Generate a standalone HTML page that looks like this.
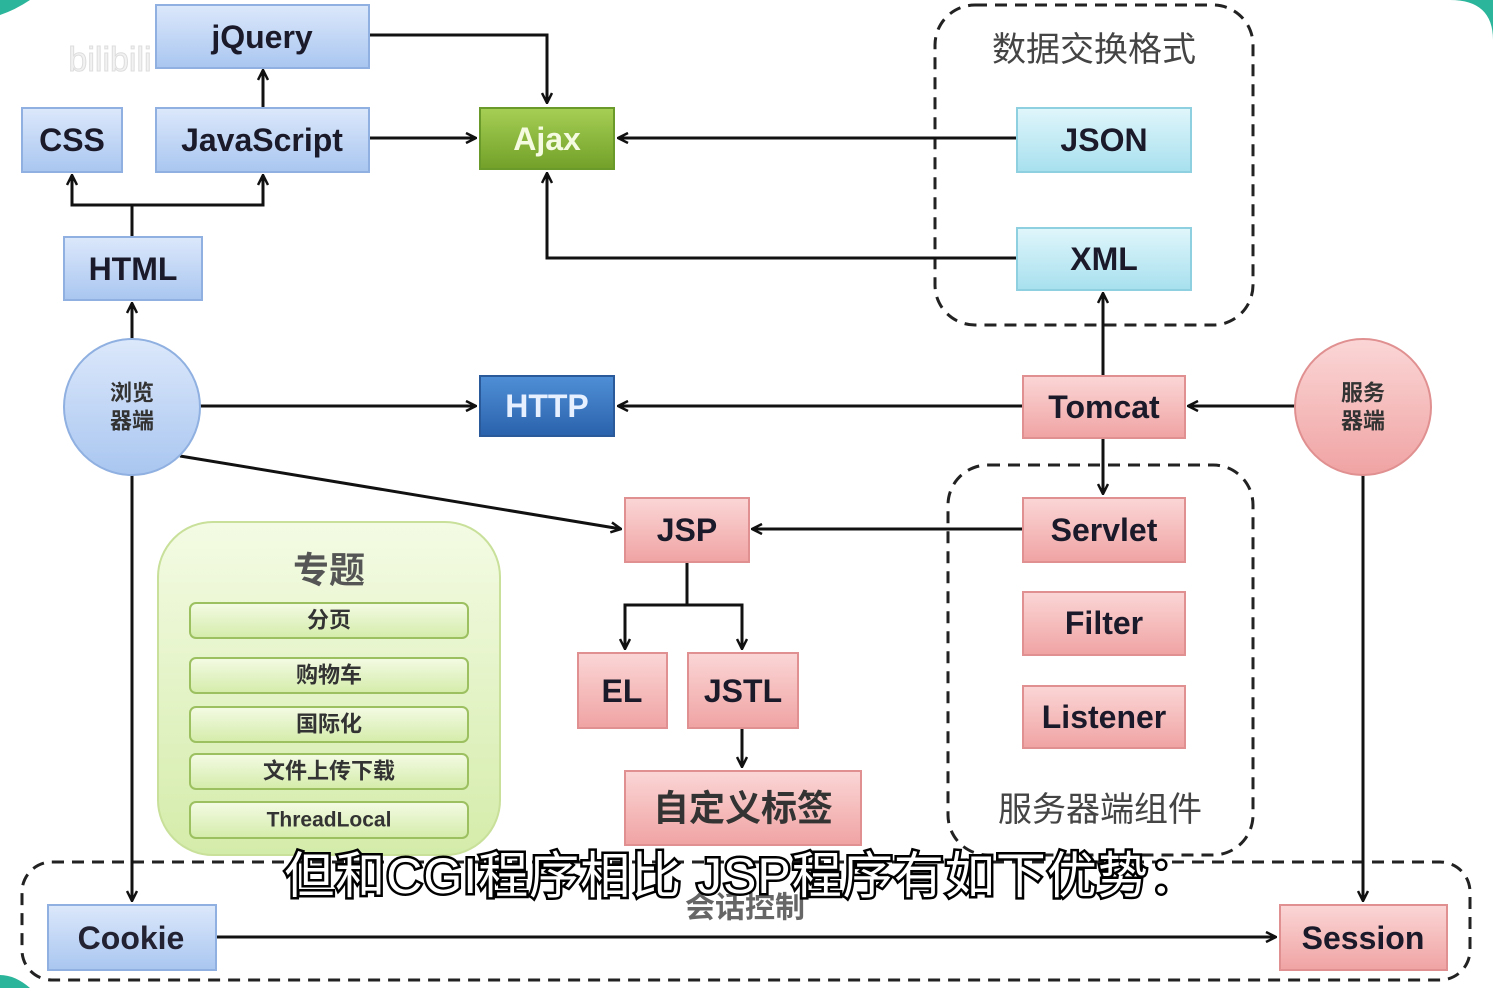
<!DOCTYPE html>
<html><head><meta charset="utf-8"><style>
body{margin:0;background:#fff;width:1493px;height:988px;overflow:hidden}
svg{display:block}
text{font-family:"Liberation Sans","Noto Sans CJK SC",sans-serif;text-anchor:middle;dominant-baseline:central}
</style></head><body>
<svg width="1493" height="988" viewBox="0 0 1493 988">
<defs>
<linearGradient id="gb" x1="0" y1="0" x2="0" y2="1"><stop offset="0" stop-color="#dce8fb"/><stop offset="1" stop-color="#a9c6f0"/></linearGradient>
<linearGradient id="gp" x1="0" y1="0" x2="0" y2="1"><stop offset="0" stop-color="#fbd6d6"/><stop offset="1" stop-color="#f0a3a3"/></linearGradient>
<linearGradient id="gc" x1="0" y1="0" x2="0" y2="1"><stop offset="0" stop-color="#e0f6fb"/><stop offset="1" stop-color="#a7e0ee"/></linearGradient>
<linearGradient id="gg" x1="0" y1="0" x2="0" y2="1"><stop offset="0" stop-color="#a6cf55"/><stop offset="1" stop-color="#72a028"/></linearGradient>
<linearGradient id="gh" x1="0" y1="0" x2="0" y2="1"><stop offset="0" stop-color="#4f8fd6"/><stop offset="1" stop-color="#2a62ac"/></linearGradient>
<linearGradient id="gl" x1="0" y1="0" x2="0" y2="1"><stop offset="0" stop-color="#f4fbe4"/><stop offset="1" stop-color="#d4ecaa"/></linearGradient>
<marker id="a" viewBox="0 0 12 12" refX="11" refY="6" markerWidth="12" markerHeight="12" markerUnits="userSpaceOnUse" orient="auto"><path d="M1,1 L11,6 L1,11" fill="none" stroke="#111" stroke-width="2.5"/></marker>
</defs>
<path d="M1450,0 Q1493,0 1493,40 L1493,0 Z" fill="#2bb59a"/>
<path d="M0,0 L30,0 Q15,10 0,15 Z" fill="#2bb59a"/>
<path d="M0,975 Q15,975 30,988 L0,988Z" fill="#2bb59a"/>
<g fill="none" stroke="#222" stroke-width="3" stroke-dasharray="12,8">
<rect x="935" y="5" width="318" height="320" rx="40"/>
<rect x="948" y="465" width="305" height="390" rx="40"/>
<rect x="22" y="862" width="1448" height="118" rx="30"/>
</g>
<text x="1094" y="50" font-size="34" fill="#444">数据交换格式</text>
<text x="1100" y="810" font-size="34" fill="#444">服务器端组件</text>
<text x="745" y="908" font-size="30" fill="#666" font-weight="bold">会话控制</text>
<g stroke="#111" stroke-width="3" fill="none">
<path d="M369,35 H547 V103" marker-end="url(#a)"/>
<path d="M369,138 H476" marker-end="url(#a)"/>
<path d="M263,108 V70" marker-end="url(#a)"/>
<path d="M132,237 V205 H72 V175"/><path d="M72,205 V175" marker-end="url(#a)"/>
<path d="M132,205 H263 V175" marker-end="url(#a)"/>
<path d="M1017,138 H618" marker-end="url(#a)"/>
<path d="M1017,258 H547 V173" marker-end="url(#a)"/>
<path d="M132,339 V303" marker-end="url(#a)"/>
<path d="M200,406 H476" marker-end="url(#a)"/>
<path d="M1023,406 H618" marker-end="url(#a)"/>
<path d="M1295,406 H1188" marker-end="url(#a)"/>
<path d="M1103,376 V293" marker-end="url(#a)"/>
<path d="M1103,438 V494" marker-end="url(#a)"/>
<path d="M1023,529 H752" marker-end="url(#a)"/>
<path d="M180,456 L621,529" marker-end="url(#a)"/>
<path d="M687,562 V605 H625 V649" marker-end="url(#a)"/>
<path d="M687,605 H742 V649" marker-end="url(#a)"/>
<path d="M742,728 V767" marker-end="url(#a)"/>
<path d="M132,475 V901" marker-end="url(#a)"/>
<path d="M1363,475 V901" marker-end="url(#a)"/>
<path d="M216,937 H1276" marker-end="url(#a)"/>
</g>
<g stroke-width="2">
<rect x="156" y="5" width="213" height="63" fill="url(#gb)" stroke="#8fb0e0"/>
<rect x="22" y="108" width="100" height="64" fill="url(#gb)" stroke="#8fb0e0"/>
<rect x="156" y="108" width="213" height="64" fill="url(#gb)" stroke="#8fb0e0"/>
<rect x="64" y="237" width="138" height="63" fill="url(#gb)" stroke="#8fb0e0"/>
<rect x="480" y="108" width="134" height="61" fill="url(#gg)" stroke="#6a9a2a"/>
<rect x="1017" y="108" width="174" height="64" fill="url(#gc)" stroke="#8fd0e0"/>
<rect x="1017" y="228" width="174" height="62" fill="url(#gc)" stroke="#8fd0e0"/>
<rect x="480" y="376" width="134" height="60" fill="url(#gh)" stroke="#2a5a9a"/>
<rect x="1023" y="376" width="162" height="62" fill="url(#gp)" stroke="#e09090"/>
<rect x="625" y="498" width="124" height="64" fill="url(#gp)" stroke="#e09090"/>
<rect x="1023" y="498" width="162" height="64" fill="url(#gp)" stroke="#e09090"/>
<rect x="1023" y="592" width="162" height="63" fill="url(#gp)" stroke="#e09090"/>
<rect x="1023" y="686" width="162" height="62" fill="url(#gp)" stroke="#e09090"/>
<rect x="578" y="653" width="89" height="75" fill="url(#gp)" stroke="#e09090"/>
<rect x="688" y="653" width="110" height="75" fill="url(#gp)" stroke="#e09090"/>
<rect x="625" y="771" width="236" height="74" fill="url(#gp)" stroke="#e09090"/>
<rect x="48" y="905" width="168" height="65" fill="url(#gb)" stroke="#8fb0e0"/>
<rect x="1280" y="905" width="167" height="65" fill="url(#gp)" stroke="#e09090"/>
<circle cx="132" cy="407" r="68" fill="url(#gb)" stroke="#8fb0e0"/>
<circle cx="1363" cy="407" r="68" fill="url(#gp)" stroke="#e09090"/>
<rect x="158" y="522" width="342" height="333" rx="55" fill="url(#gl)" stroke="#c8e09a"/>
<g fill="url(#gl)" stroke="#9cc060">
<rect x="190" y="603" width="278" height="35" rx="6"/>
<rect x="190" y="658" width="278" height="35" rx="6"/>
<rect x="190" y="707" width="278" height="35" rx="6"/>
<rect x="190" y="754" width="278" height="35" rx="6"/>
<rect x="190" y="802" width="278" height="36" rx="6"/>
</g>
</g>
<g font-size="32" fill="#1a1a2a" font-weight="bold">
<text x="262" y="37">jQuery</text>
<text x="72" y="140">CSS</text>
<text x="262" y="140">JavaScript</text>
<text x="133" y="269">HTML</text>
<text x="547" y="139" fill="#f4fbe0">Ajax</text>
<text x="1104" y="140">JSON</text>
<text x="1104" y="259">XML</text>
<text x="547" y="406" fill="#e6f0ff">HTTP</text>
<text x="1104" y="407">Tomcat</text>
<text x="687" y="530">JSP</text>
<text x="1104" y="530">Servlet</text>
<text x="1104" y="623">Filter</text>
<text x="1104" y="717">Listener</text>
<text x="622" y="691">EL</text>
<text x="743" y="691">JSTL</text>
<text x="743" y="808" font-size="36" fill="#333">自定义标签</text>
<text x="131" y="938" fill="#223">Cookie</text>
<text x="1363" y="938">Session</text>
<text x="329" y="570" font-size="36" fill="#555">专题</text>
</g>
<g font-size="22" fill="#333" font-weight="bold">
<text x="132" y="393">浏览</text><text x="132" y="421">器端</text>
<text x="1363" y="393">服务</text><text x="1363" y="421">器端</text>
<text x="329" y="620">分页</text>
<text x="329" y="675">购物车</text>
<text x="329" y="724">国际化</text>
<text x="329" y="771">文件上传下载</text>
<text x="329" y="820" font-size="21">ThreadLocal</text>
</g>
<text x="742" y="876" font-size="50" letter-spacing="1" fill="#fff" stroke="#000" stroke-width="5" paint-order="stroke" font-family="'Liberation Serif','Noto Serif CJK SC',serif">但和CGI程序相比 JSP程序有如下优势：</text>
<text x="110" y="60" font-size="34" fill="#f2f2f2" stroke="#ddd" stroke-width="1">bilibili</text>
</svg>
</body></html>
